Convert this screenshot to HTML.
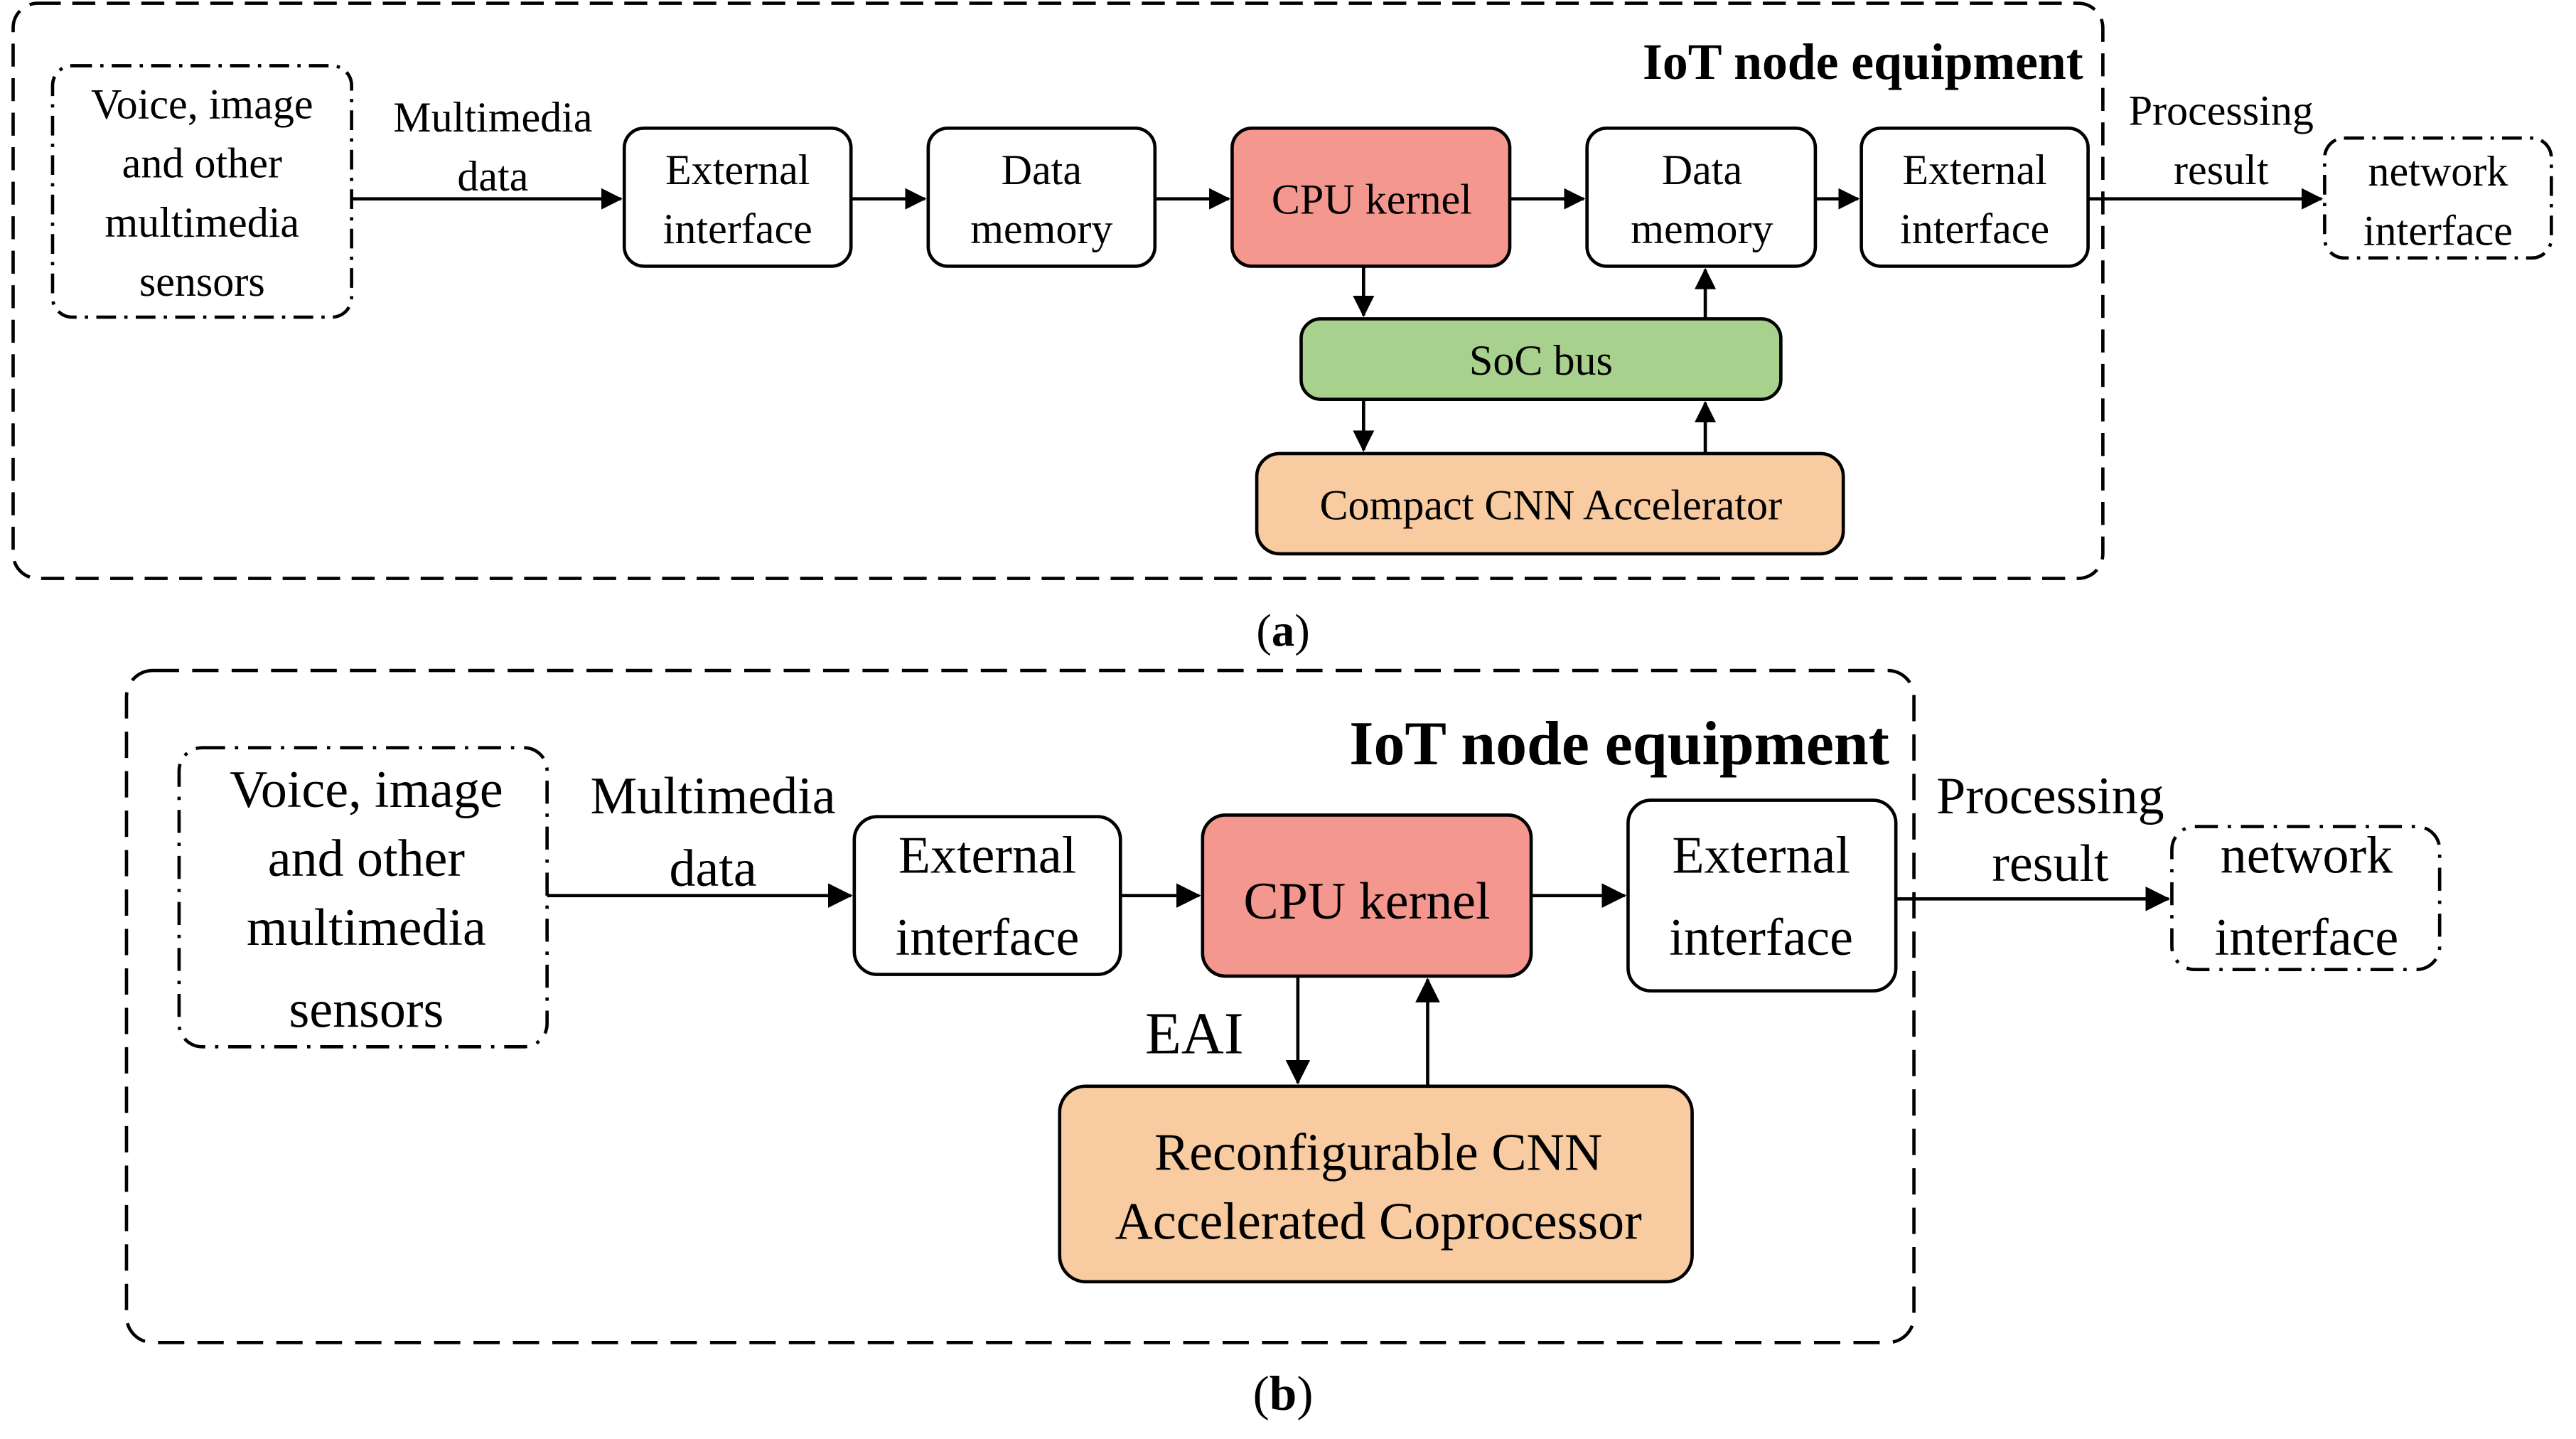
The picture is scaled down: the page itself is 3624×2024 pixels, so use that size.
<!DOCTYPE html>
<html><head><meta charset="utf-8"><style>
html,body{margin:0;padding:0;background:#fff;}
svg{display:block;}
text{font-family:"Liberation Serif",serif;fill:#000;}
</style></head><body>
<svg width="3624" height="2024" viewBox="0 0 1568 875.7" preserveAspectRatio="none" xmlns="http://www.w3.org/2000/svg">
<defs>
<marker id="ar" markerWidth="13" markerHeight="13" refX="12" refY="6.5" orient="auto" markerUnits="userSpaceOnUse" viewBox="0 0 13 13">
<path d="M0,0 L13,6.5 L0,13 z" fill="#000"/></marker>
<marker id="ar2" markerWidth="15" markerHeight="15" refX="14" refY="7.5" orient="auto" markerUnits="userSpaceOnUse" viewBox="0 0 15 15">
<path d="M0,0 L15,7.5 L0,15 z" fill="#000"/></marker>
</defs>
<g stroke="#000" stroke-width="2" fill="none">
<!-- (a) -->
<rect x="8" y="2" width="1272" height="350" rx="15" stroke-dasharray="14,7"/>
<rect x="32" y="40" width="182" height="153" rx="12" stroke-dasharray="12,5,2,5"/>
<rect x="380" y="78" width="138" height="84" rx="12" fill="#fff"/>
<rect x="565" y="78" width="138" height="84" rx="12" fill="#fff"/>
<rect x="750" y="78" width="169" height="84" rx="12" fill="#f4978e"/>
<rect x="966" y="78" width="139" height="84" rx="12" fill="#fff"/>
<rect x="1133" y="78" width="138" height="84" rx="12" fill="#fff"/>
<rect x="1415" y="84" width="138" height="73" rx="12" stroke-dasharray="12,5,2,5"/>
<rect x="792" y="194" width="292" height="49" rx="12" fill="#a9d18e"/>
<rect x="765" y="276" width="357" height="61" rx="14" fill="#f8cba0"/>
<line x1="214" y1="121" x2="378" y2="121" marker-end="url(#ar)"/>
<line x1="518" y1="121" x2="563" y2="121" marker-end="url(#ar)"/>
<line x1="703" y1="121" x2="748" y2="121" marker-end="url(#ar)"/>
<line x1="919" y1="121" x2="964" y2="121" marker-end="url(#ar)"/>
<line x1="1105" y1="121" x2="1131" y2="121" marker-end="url(#ar)"/>
<line x1="1271" y1="121" x2="1413" y2="121" marker-end="url(#ar)"/>
<line x1="830" y1="162" x2="830" y2="192" marker-end="url(#ar)"/>
<line x1="1038" y1="194" x2="1038" y2="164" marker-end="url(#ar)"/>
<line x1="830" y1="243" x2="830" y2="274" marker-end="url(#ar)"/>
<line x1="1038" y1="276" x2="1038" y2="245" marker-end="url(#ar)"/>
<!-- (b) -->
<rect x="77" y="408" width="1088" height="409" rx="16" stroke-dasharray="16,8"/>
<rect x="109" y="455" width="224" height="182" rx="14" stroke-dasharray="14,6,2,6"/>
<rect x="520" y="497" width="162" height="96" rx="14" fill="#fff"/>
<rect x="732" y="496" width="200" height="98" rx="14" fill="#f4978e"/>
<rect x="991" y="487" width="163" height="116" rx="14" fill="#fff"/>
<rect x="1322" y="503" width="163" height="87" rx="14" stroke-dasharray="14,6,2,6"/>
<rect x="645" y="661" width="385" height="119" rx="16" fill="#f8cba0"/>
<line x1="333" y1="545" x2="518" y2="545" marker-end="url(#ar2)"/>
<line x1="682" y1="545" x2="730" y2="545" marker-end="url(#ar2)"/>
<line x1="932" y1="545" x2="989" y2="545" marker-end="url(#ar2)"/>
<line x1="1154" y1="547" x2="1320" y2="547" marker-end="url(#ar2)"/>
<line x1="790" y1="594" x2="790" y2="659" marker-end="url(#ar2)"/>
<line x1="869" y1="661" x2="869" y2="596" marker-end="url(#ar2)"/>
</g>
<g font-size="26" text-anchor="middle">
<text x="1268" y="48" text-anchor="end" font-weight="bold" font-size="31">IoT node equipment</text>
<text x="123" y="72">Voice, image</text>
<text x="123" y="108">and other</text>
<text x="123" y="144">multimedia</text>
<text x="123" y="180">sensors</text>
<text x="300" y="80">Multimedia</text>
<text x="300" y="116">data</text>
<text x="449" y="112">External</text>
<text x="449" y="148">interface</text>
<text x="634" y="112">Data</text>
<text x="634" y="148">memory</text>
<text x="835" y="130">CPU kernel</text>
<text x="1036" y="112">Data</text>
<text x="1036" y="148">memory</text>
<text x="1202" y="112">External</text>
<text x="1202" y="148">interface</text>
<text x="1352" y="76">Processing</text>
<text x="1352" y="112">result</text>
<text x="1484" y="113">network</text>
<text x="1484" y="149">interface</text>
<text x="938" y="228">SoC bus</text>
<text x="944" y="316">Compact CNN Accelerator</text>
<text x="781" y="393" font-size="28">(<tspan font-weight="bold">a</tspan>)</text>
</g>
<g font-size="32" text-anchor="middle">
<text x="1150" y="465" text-anchor="end" font-weight="bold" font-size="38">IoT node equipment</text>
<text x="223" y="491">Voice, image</text>
<text x="223" y="533">and other</text>
<text x="223" y="575">multimedia</text>
<text x="223" y="625">sensors</text>
<text x="434" y="495">Multimedia</text>
<text x="434" y="539">data</text>
<text x="601" y="531">External</text>
<text x="601" y="581">interface</text>
<text x="832" y="559">CPU kernel</text>
<text x="1072" y="531">External</text>
<text x="1072" y="581">interface</text>
<text x="1248" y="495">Processing</text>
<text x="1248" y="536">result</text>
<text x="1404" y="531">network</text>
<text x="1404" y="581">interface</text>
<text x="727" y="641" font-size="36">EAI</text>
<text x="839" y="712">Reconfigurable  CNN</text>
<text x="839" y="754">Accelerated Coprocessor</text>
<text x="781" y="858" font-size="30">(<tspan font-weight="bold">b</tspan>)</text>
</g>
</svg>
</body></html>
